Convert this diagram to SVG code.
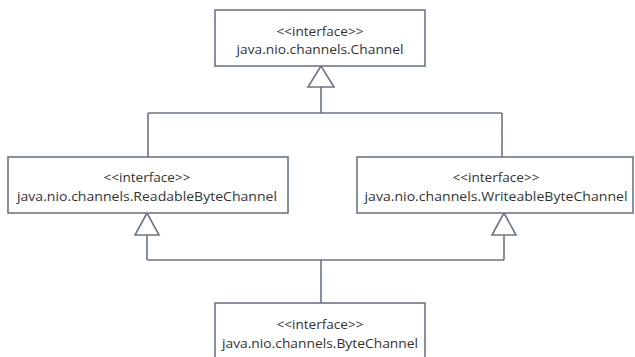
<svg xmlns="http://www.w3.org/2000/svg" width="635" height="357" viewBox="0 0 635 357">
<defs>
<style>
.box{fill:#ffffff;stroke:#6b7686;stroke-width:1.6}
.ln{fill:none;stroke:#6b7686;stroke-width:1.6}
.tri{fill:#ffffff;stroke:#6b7686;stroke-width:1.6;stroke-linejoin:miter}
text{font-family:"Open Sans","Liberation Sans",sans-serif;font-size:13px;fill:#333333;text-anchor:middle}
</style>
</defs>
<rect width="635" height="357" fill="#ffffff"/>
<g id="connectors">
<path class="ln" d="M321,87 V113 M148,113 H502 M148,113 V157 M502,113 V157"/>
<polygon class="tri" points="321,66 308,87 334,87"/>
<path class="ln" d="M147,235 V260 M504,235 V260 M147,260 H504 M321,260 V303"/>
<polygon class="tri" points="147,213 135,235 159,235"/>
<polygon class="tri" points="504,213 492,235 516,235"/>
</g>
<g id="channel">
<rect class="box" x="215" y="10" width="210" height="56"/>
<text x="320" y="36" textLength="87" lengthAdjust="spacingAndGlyphs">&lt;&lt;interface&gt;&gt;</text>
<text x="320" y="54" textLength="167" lengthAdjust="spacingAndGlyphs">java.nio.channels.Channel</text>
</g>
<g id="readable">
<rect class="box" x="8" y="157" width="280" height="56"/>
<text x="147" y="182" textLength="87" lengthAdjust="spacingAndGlyphs">&lt;&lt;interface&gt;&gt;</text>
<text x="147" y="201" textLength="260" lengthAdjust="spacingAndGlyphs">java.nio.channels.ReadableByteChannel</text>
</g>
<g id="writeable">
<rect class="box" x="357" y="157" width="276" height="56"/>
<text x="496" y="182" textLength="87" lengthAdjust="spacingAndGlyphs">&lt;&lt;interface&gt;&gt;</text>
<text x="496" y="201" textLength="263" lengthAdjust="spacingAndGlyphs">java.nio.channels.WriteableByteChannel</text>
</g>
<g id="bytechannel">
<rect class="box" x="215" y="303" width="210" height="60"/>
<text x="320" y="329" textLength="87" lengthAdjust="spacingAndGlyphs">&lt;&lt;interface&gt;&gt;</text>
<text x="320" y="348" textLength="196" lengthAdjust="spacingAndGlyphs">java.nio.channels.ByteChannel</text>
</g>
</svg>
